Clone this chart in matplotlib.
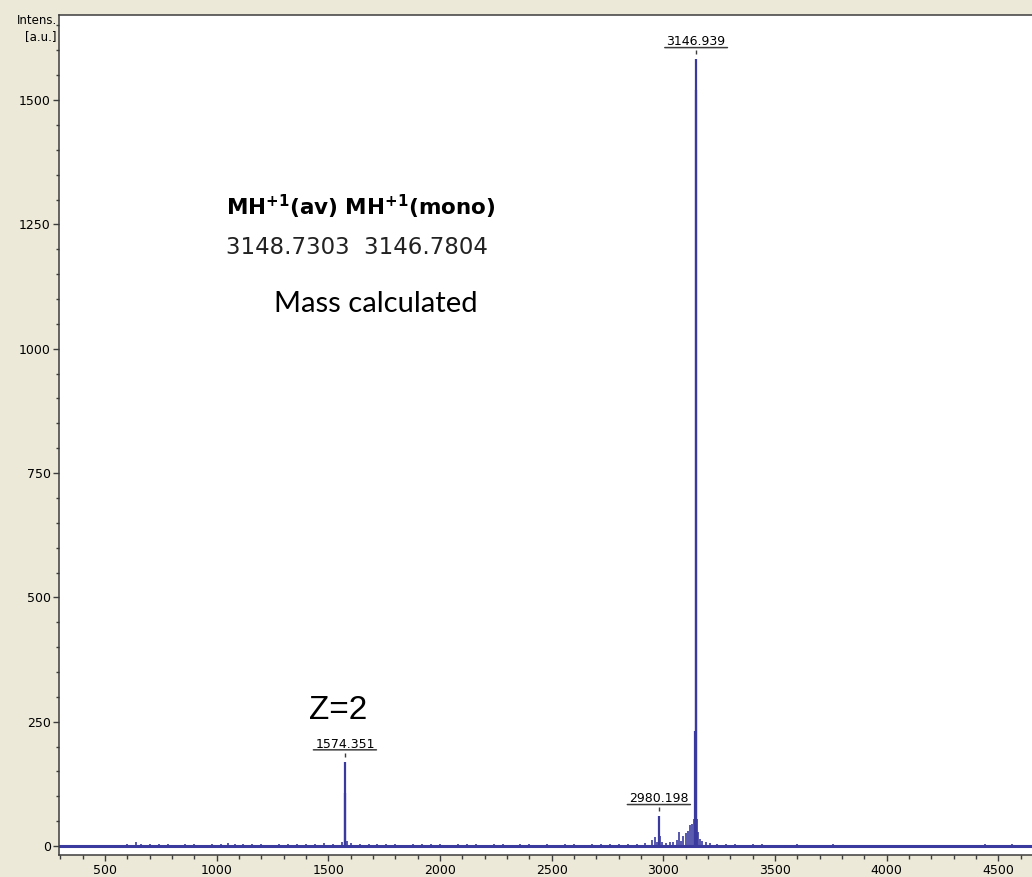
import matplotlib.pyplot as plt
import numpy as np
from matplotlib.transforms import offset_copy

# main peaks (m/z, intensity)
peak_mz = [1574.351, 1576.0, 2980.198, 3141.0, 3144.5, 3146.939]
peak_int = [170, 107, 60, 232, 1520, 1582]

# labelled peaks
label_mz = [1574.351, 2980.198, 3146.939]
label_int = [170, 60, 1582]
label_txt = ['1574.351', '2980.198', '3146.939']

# baseline noise / small peaks
noise_mz = [600, 640, 660, 700, 740, 780, 820, 860, 900, 940, 980, 1020, 1050, 1080,
            1120, 1160, 1200, 1240, 1280, 1320, 1360, 1400, 1440, 1480, 1520, 1560,
            1585, 1600, 1640, 1680, 1720, 1760, 1800, 1840, 1880, 1920, 1960, 2000,
            2040, 2080, 2120, 2160, 2200, 2240, 2280, 2320, 2360, 2400, 2440, 2480,
            2520, 2560, 2600, 2640, 2680, 2720, 2760, 2800, 2840, 2880, 2920, 2950,
            2965, 2972, 2985, 2995, 3010, 3030, 3045, 3060, 3070, 3080, 3090, 3100,
            3110, 3120, 3130, 3136, 3150, 3155, 3165, 3175, 3190, 3210, 3240, 3280,
            3320, 3360, 3400, 3440, 3480, 3520, 3560, 3600, 3640, 3680, 3720, 3760,
            3800, 3840, 3880, 3920, 3960, 4000, 4040, 4080, 4120, 4160, 4200, 4240,
            4280, 4320, 4360, 4400, 4440, 4480, 4520, 4560, 4600, 4640]
noise_int = [4, 8, 5, 5, 4, 5, 3, 4, 5, 3, 4, 5, 7, 4,
             5, 4, 5, 3, 4, 5, 4, 5, 4, 6, 4, 8,
             10, 6, 5, 4, 5, 4, 5, 3, 4, 5, 4, 5,
             3, 4, 5, 4, 3, 5, 4, 3, 4, 5, 3, 4,
             3, 5, 4, 3, 4, 5, 4, 5, 4, 5, 6, 12,
             18, 8, 20, 8, 7, 9, 8, 12, 28, 10, 20, 26,
             30, 42, 45, 55, 55, 28, 15, 10, 8, 6, 5, 4,
             4, 3, 4, 5, 3, 3, 3, 4, 3, 3, 3, 4,
             3, 3, 3, 3, 3, 3, 3, 2, 2, 3, 3, 3,
             3, 3, 3, 3, 4, 3, 3, 4, 3, 3]

blue = '#3a3a9e'
frame = '#3c3c3c'

fig = plt.figure(figsize=(10.32, 8.77), dpi=100)
fig.patch.set_facecolor('#ece9d8')
ax = fig.add_axes([59/1032, 22/877, 1 - 59/1032, 840/877])

ax.axhline(0, color=blue, lw=2.2)
ax.vlines(noise_mz, 0, noise_int, color=blue, lw=1.2)
ax.vlines(peak_mz, 0, peak_int, color=blue, lw=1.6)

ax.set_xlim(294, 4651)
ax.set_ylim(-18, 1671)

ax.set_xticks(np.arange(500, 4501, 500))
ax.set_xticks(np.arange(300, 4651, 100), minor=True)
ax.set_yticks(np.arange(0, 1501, 250))
ax.set_yticks(np.arange(0, 1651, 50), minor=True)
ax.tick_params(which='major', length=4, width=1, color=frame, labelsize=9, pad=2)
ax.tick_params(which='minor', length=2, width=1, color=frame)
ax.tick_params(axis='x', which='major', length=4.5)
ax.tick_params(axis='x', which='minor', length=3)
for s in ax.spines.values():
    s.set_color(frame)
    s.set_linewidth(1.1)
ax.spines['right'].set_visible(False)

# peak labels with underline and small tick
for mz, h, t in zip(label_mz, label_int, label_txt):
    txt = ax.annotate(t, xy=(mz, h), xytext=(0, 10), textcoords='offset points',
                      ha='center', va='baseline', fontsize=9)
    ax.annotate('', xy=(-0.03, 0.06), xycoords=txt, xytext=(1.03, 0.06), textcoords=txt,
                arrowprops=dict(arrowstyle='-', color=frame, lw=1.1, shrinkA=0, shrinkB=0))
    ax.plot([mz], [h], marker='|', ms=2.5, mew=1, color=frame,
            transform=offset_copy(ax.transData, fig=fig, y=5, units='points'))

fig.text(57/1032, 1 - 14/877, 'Intens.\n[a.u.]', ha='right', va='top', fontsize=8.5,
         linespacing=1.35, multialignment='right')

fig.text(226/1032, 1 - 215/877, r'MH$^{\mathbf{+1}}$(av) MH$^{\mathbf{+1}}$(mono)',
         fontsize=15.5, fontweight='bold', va='baseline')
fig.text(226/1032, 1 - 254/877, '3148.7303  3146.7804', fontsize=16.5, color='#222222',
         va='baseline')
fig.text(274/1032, 1 - 312/877, 'Mass calculated', fontsize=21, family='Lato',
         va='baseline')
fig.text(309/1032, 1 - 719/877, 'Z=2', fontsize=24, family='Liberation Sans',
         va='baseline')

fig.savefig('out.png', dpi=100, facecolor=fig.get_facecolor())
